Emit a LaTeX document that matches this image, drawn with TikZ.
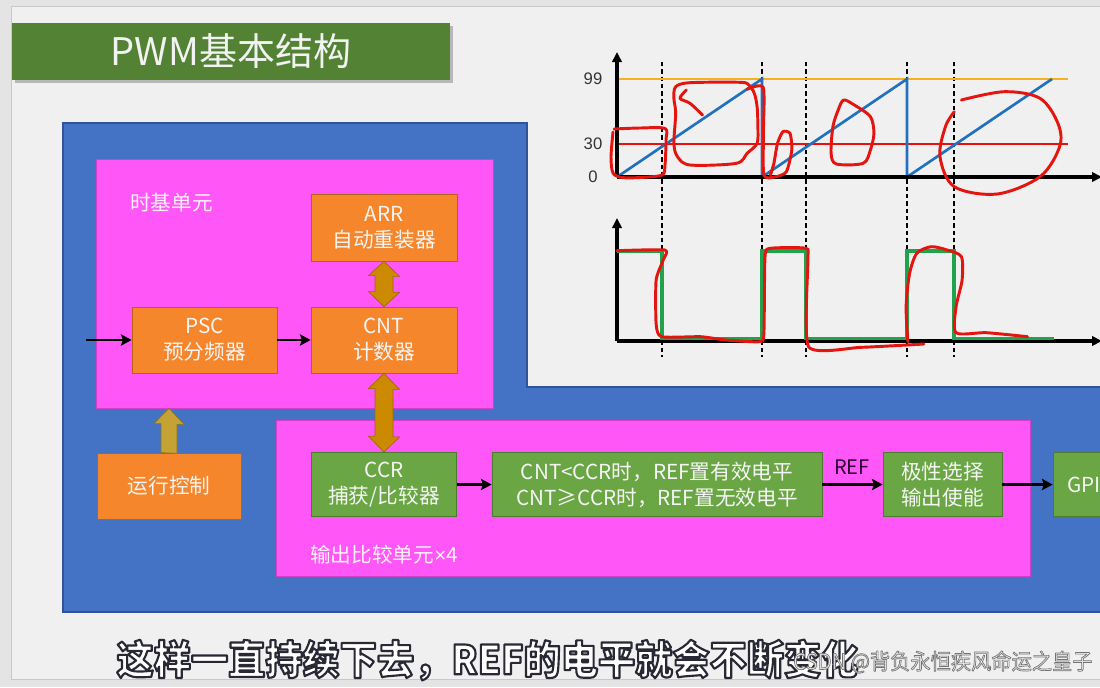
\documentclass[tikz,border=0pt]{standalone}
\usepackage{fontspec}
\setmainfont{Noto Sans CJK SC}
\newfontfamily\arialf{Liberation Sans}
\newfontfamily\subf[FakeStretch=0.93]{Noto Sans CJK SC}
\newfontfamily\wmf[FakeStretch=0.92]{Noto Sans CJK SC}
\usetikzlibrary{arrows.meta,calc}
\definecolor{outerbg}{HTML}{E4E4E4}
\definecolor{slidebg}{HTML}{F0F0F0}
\definecolor{slideline}{HTML}{C8C8C8}
\definecolor{titlegreen}{HTML}{548235}
\definecolor{pblue}{HTML}{4472C4}
\definecolor{pblueb}{HTML}{2F5597}
\definecolor{pmag}{HTML}{FF57F7}
\definecolor{pmagb}{HTML}{D040C8}
\definecolor{porange}{HTML}{F5862B}
\definecolor{porangeb}{HTML}{B8601A}
\definecolor{pgreen}{HTML}{6BA644}
\definecolor{pgreenb}{HTML}{4C7A2E}
\definecolor{dblgold}{HTML}{CC8A00}
\definecolor{dblgoldb}{HTML}{9A6800}
\definecolor{upgold}{HTML}{C4A234}
\definecolor{upgoldb}{HTML}{8E7420}
\definecolor{lvlorange}{HTML}{F5B120}
\definecolor{lvlred}{HTML}{E8120C}
\definecolor{rampblue}{HTML}{2171C0}
\definecolor{wavegreen}{HTML}{21A34E}
\definecolor{penred}{HTML}{E4140E}
\definecolor{reftext}{HTML}{2A0030}
% outlined text: fill + stroke render mode
\newcommand\strokedtext[3]{\special{pdf:literal direct #2 w 1 j #3 RG 2 Tr}#1\special{pdf:literal direct 0 Tr}}
\begin{document}
\begin{tikzpicture}[x=0.75pt,y=-0.75pt,
  titlebox/.style={fill=titlegreen, text=white!95!black, minimum width=328.5pt, minimum height=42.75pt, inner sep=0pt, font=\fontsize{28.5}{30}\selectfont},
  magbox/.style={fill=pmag, draw=pmagb, line width=0.5pt, inner sep=0pt},
  box/.style={draw, line width=0.6pt, text=white!96!black, inner sep=0pt, align=center, font=\fontsize{15.5}{19.5}\selectfont},
  obox/.style={box, fill=porange, draw=porangeb},
  gbox/.style={box, fill=pgreen, draw=pgreenb},
  lbl/.style={text=white!92!pmag, inner sep=0pt, font=\fontsize{15.5}{18}\selectfont},
  blk/.style={line width=2.2pt, -{Stealth[length=8pt,width=8.5pt,inset=1.5pt]}},
  dblarrow/.style={fill=dblgold, draw=dblgoldb, line width=0.5pt},
  uparrow/.style={fill=upgold, draw=upgoldb, line width=0.5pt},
  axisline/.style={line width=2.3pt, -{Triangle[length=7.5pt,width=7pt]}},
  dashline/.style={line width=1.1pt, dash pattern=on 3.2pt off 2.3pt},
  axlbl/.style={inner sep=0pt, text=black!80, font=\arialf\fontsize{12.5}{14}\selectfont},
  pen/.style={draw=penred, line width=2.2pt, line cap=round, line join=round}
]
\clip (0,0) rectangle (1100,687);
% background and slide
\fill[outerbg] (0,0) rectangle (1100,687);
\filldraw[fill=slidebg, draw=slideline, line width=0.6pt] (11,6) rectangle (1115,679);
% title
\fill[black!28] (15,26) rectangle (453,83);
\node[titlebox] (title) at (231,51.5) {PWM基本结构};
% big blue region
\filldraw[fill=pblue, draw=pblueb, line width=0.8pt] (63,123) -- (527,123) -- (527,387) -- (1115,387) -- (1115,612) -- (63,612) -- cycle;
% magenta units
\node[magbox, minimum width=297.75pt, minimum height=186.75pt] (tbu) at (294.5,283.5) {};
\node[magbox, minimum width=565.5pt, minimum height=117pt] (obu) at (653,498) {};
\node[lbl, anchor=west] (tbulbl) at (130,203) {时基单元};
\node[lbl, anchor=west] (obulbl) at (310,555) {输出比较单元{\arialf ×}4};
% boxes
\node[obox, minimum width=109.5pt, minimum height=50.25pt] (arr) at (384,227.5) {ARR\\自动重装器};
\node[obox, minimum width=108.75pt, minimum height=49.5pt] (psc) at (204.5,340) {PSC\\预分频器};
\node[obox, minimum width=109.5pt, minimum height=49.5pt] (cnt) at (384,340) {CNT\\计数器};
\node[obox, minimum width=108pt, minimum height=49.5pt] (run) at (169,486) {运行控制};
\node[gbox, minimum width=108.75pt, minimum height=48pt] (ccr) at (384,484.5) {CCR\\捕获/比较器};
\node[gbox, minimum width=247.5pt, minimum height=48pt] (cmp) at (657,484.5) {CNT<CCR时，REF置有效电平\\CNT≥CCR时，REF置无效电平};
\node[gbox, minimum width=89.25pt, minimum height=48pt] (pol) at (942.5,484.5) {极性选择\\输出使能};
\node[gbox, minimum width=61.5pt, minimum height=48pt, text width=40pt, align=left] (gpio) at (1094,484.5) {GPI};
% thin arrows
\coordinate (inpt) at (86,340);
\draw[blk] (inpt) -- (psc.west);
\draw[blk] (psc.east) -- (cnt.west);
\draw[blk] (ccr.east) -- (cmp.west);
\draw[blk] (cmp.east) -- (pol.west);
\draw[blk] (pol.east) -- (gpio.west);
\node[inner sep=0pt, text=reftext, font=\fontsize{15}{16}\selectfont] (reflbl) at (852,467.5) {REF};
% fat arrows
\filldraw[dblarrow] (arr.south) -- ++(15.5,15) -- ++(-6.5,0) -- ++(0,16) -- ++(6.5,0) -- (cnt.north) -- ++(-15.5,-15) -- ++(6.5,0) -- ++(0,-16) -- ++(-6.5,0) -- cycle;
\filldraw[dblarrow] (cnt.south) -- ++(15.5,16) -- ++(-6.5,0) -- ++(0,47.5) -- ++(6.5,0) -- (ccr.north) -- ++(-15.5,-16) -- ++(6.5,0) -- ++(0,-47.5) -- ++(-6.5,0) -- cycle;
\filldraw[uparrow] ([xshift=-6pt]run.north) -- ++(0,-29) -- ++(-7,0) -- (tbu.south -| run.north) -- ++(15,16) -- ++(-7,0) -- ++(0,29) -- cycle;
% ---- charts ----
\foreach \xx in {662,762,806,907,954} \draw[dashline] (\xx,62) -- (\xx,357);
\draw[line width=2.2pt, lvlorange] (617,79) -- (1068,79);
\draw[line width=1.6pt, lvlred] (617,144) -- (1068,144);
\draw[line width=2pt, rampblue] (617,177) -- (762,79) -- (762,177) -- (907,79) -- (907,177) -- (1052,79);
\draw[axisline] (617,177) -- (617,52);
\draw[axisline] (617,177) -- (1102,177);
\draw[axisline] (617,341) -- (617,218);
\draw[axisline] (617,341) -- (1102,341);
\draw[line width=2.3pt, wavegreen] (617,251) -- (662,251) -- (662,338.5) -- (762,338.5) -- (762,251) -- (806,251) -- (806,338.5) -- (907,338.5) -- (907,251) -- (954,251) -- (954,338.5) -- (1054,338.5);
\node[axlbl] (l99) at (593,79) {99};
\node[axlbl] (l30) at (593,144) {30};
\node[axlbl] (l0) at (593,177) {0};
% red pen annotations
\draw[pen] plot[smooth, tension=0.5] coordinates {(614,129) (640,128) (665,128.5) (666,140) (665,165) (662,175) (640,177.5) (622,177.5) (613,173) (611,157) (613,132)};
\draw[pen] plot[smooth cycle, tension=0.5] coordinates {(675.7,86.7) (690,82.7) (740,82.3) (748.9,85) (754.3,93.3) (757.1,106.7) (757.9,126.7) (757.1,143.3) (747.1,153.3) (736.4,163.3) (690,165) (677.5,156.7) (673.9,143.3) (675.7,113.3) (673.9,98.3)};
\draw[pen] plot[smooth, tension=0.5] coordinates {(686.4,90) (680,98.3) (690,103.3) (702.5,115)};
\draw[pen] plot[smooth, tension=0.4] coordinates {(747.1,89.3) (763.2,87.3) (763.5,130) (763.9,175) (775.7,176.7) (786.4,171.7) (791.8,150) (790,133.3) (782.9,131.7) (777.5,143.3) (773.9,163.3) (770.4,175)};
\draw[pen] plot[smooth cycle, tension=0.5] coordinates {(843.6,100) (854.3,105) (870.4,116.7) (873.9,133.3) (870.4,150) (863.2,163.3) (836.4,164) (831.1,153.3) (832.9,126.7) (838.2,110)};
\draw[pen] plot[smooth, tension=0.55] coordinates {(961.4,100) (1004.3,91.7) (1040,98.3) (1057.9,123.3) (1059.6,146.7) (1040,176.7) (997.1,194) (954.3,186.7) (940,156.7) (945.4,126.7) (954.3,111.7)};
\draw[pen] plot[smooth, tension=0.35] coordinates {(616.8,250.7) (665,250) (663.2,260) (656.1,280) (656.1,323.3) (661.4,336.7) (700.7,336.7) (725.7,340) (759.6,341.7) (763.9,333.3) (765,256.7) (770.4,248.3) (806.1,248.3) (807.9,260) (808.6,346.7) (861.4,347.3) (923.9,344)};
\draw[pen] plot[smooth, tension=0.45] coordinates {(907.9,341.7) (906.1,306.7) (909.6,273.3) (916.8,253.3) (931.1,246.7) (947.1,250) (961.4,256.7) (962.1,280) (956.1,306.7) (956.1,332.7) (986.4,332.7) (1027.5,336.7)};
% subtitle and watermark
\node[inner sep=0pt, text=white, font=\subf\bfseries\fontsize{30}{32}\selectfont] (subtitle) at (487.5,660) {\strokedtext{这样一直持续下去，REF的电平就会不断变化}{1.6}{0.16 0.16 0.21}};
\node[anchor=west, inner sep=0pt, text=white!92!black, font=\wmf\fontsize{16.5}{18}\selectfont] (wmark) at (793,662) {\strokedtext{CSDN @背负永恒疾风命运之皇子}{0.5}{0.45 0.45 0.45}};
\end{tikzpicture}
\end{document}
